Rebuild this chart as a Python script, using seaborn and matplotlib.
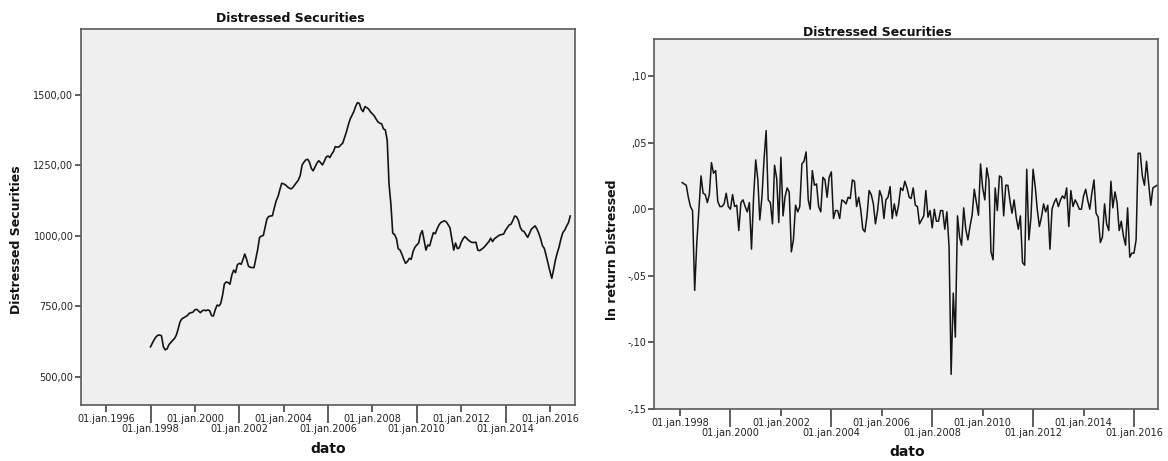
import numpy as np
import pandas as pd
import matplotlib
matplotlib.use("Agg")
import matplotlib.pyplot as plt
import seaborn as sns

# Monthly index level, Jan 1998 - Dec 2016
level_1998_2016 = [
    607, 620, 632, 642, 648, 649, 646, 607, 596, 600, 615, 622,
    630, 637, 648, 670, 695, 706, 710, 714, 718, 726, 728, 730,
    738, 740, 734, 728, 735, 737, 735, 738, 735, 718, 716, 738,
    755, 752, 760, 790, 830, 837, 835, 829, 862, 879, 870, 898,
    903, 900, 915, 936, 918, 893, 889, 888, 888, 920, 953, 995,
    1000, 1002, 1030, 1060, 1069, 1071, 1072, 1100, 1125, 1140, 1165, 1187,
    1185, 1181, 1175, 1170, 1167, 1172, 1181, 1190, 1199, 1215, 1252, 1262,
    1270, 1272, 1262, 1240, 1231, 1245, 1258, 1267, 1260, 1252, 1265, 1280,
    1284, 1278, 1290, 1300, 1317, 1315, 1316, 1323, 1330, 1350, 1370, 1394,
    1415, 1429, 1441, 1460, 1473, 1470, 1450, 1441, 1459, 1455, 1450, 1440,
    1433, 1426, 1415, 1405, 1400, 1398, 1380, 1376, 1340, 1184, 1112, 1010,
    1005, 990, 955, 950, 935, 917, 903, 910, 921, 917, 945, 960,
    968, 975, 1005, 1019, 985, 950, 968, 965, 990, 1012, 1008, 1025,
    1039, 1048, 1051, 1054, 1050, 1040, 1029, 990, 950, 975, 955, 958,
    977, 990, 998, 992, 985, 980, 977, 977, 978, 950, 948, 953,
    958, 965, 972, 980, 992, 980, 990, 995, 1000, 1004, 1005, 1007,
    1021, 1030, 1039, 1042, 1055, 1071, 1068, 1055, 1030, 1019, 1016, 1005,
    995, 1010, 1024, 1030, 1036, 1025, 1010, 990, 965, 956, 930, 903,
    875, 850, 880, 915, 940, 962, 990, 1012, 1021, 1035, 1047, 1071,
]

# Monthly log returns, Feb 1998 - Dec 2016
log_return = [
    .020, .019, .018, .009, .002, -.001, -.061, -.025, .000, .025, .012,
    .011, .005, .011, .035, .027, .029, .006, .002, .002, .004, .012, .002,
    .000, .011, .002, .003, -.016, .005, .007, .002, -.002, .005, -.030, .009,
    .037, .022, -.008, .009, .037, .059, .007, .005, -.011, .033, .023, -.010,
    .039, -.005, .009, .016, .013, -.032, -.023, .003, -.002, .002, .034, .036,
    .043, .007, .000, .029, .018, .019, .002, -.002, .024, .022, .009, .024,
    .028, -.007, -.001, -.001, -.007, .007, .006, .004, .009, .008, .022, .021,
    .002, .009, .000, -.015, -.017, -.005, .014, .011, .004, -.011, -.001, .014,
    .009, -.007, .007, .009, .017, -.007, .004, -.005, .003, .016, .014, .021,
    .016, .009, .008, .016, .003, .002, -.011, -.008, -.005, .014, -.006, -.001,
    -.014, .000, -.009, -.009, -.001, -.001, -.015, -.002, -.028, -.124, -.063, -.096,
    -.005, -.021, -.027, .001, -.015, -.023, -.013, -.0045, .015, .0055, -.0045, .034,
    .016, .007, .031, .022, -.032, -.038, .016, -.001, .025, .024, -.005, .018,
    .018, .006, -.003, .007, -.006, -.015, -.005, -.040, -.042, .030, -.023, -.006,
    .030, .017, .000, -.013, -.006, .004, -.002, .003, -.030, .000, .005, .008,
    .002, .007, .010, .008, .016, -.013, .014, .002, .007, .004, .000, .000,
    .010, .015, .007, .000, .012, .022, -.003, -.006, -.025, -.021, .004, -.011,
    -.016, .021, .001, .013, .005, -.016, -.009, -.020, -.027, .001, -.036, -.033,
    -.033, -.023, .042, .042, .025, .018, .036, .019, .003, .016, .017, .018,
]

level_dates = pd.date_range("1998-01-01", periods=len(level_1998_2016), freq="MS")
return_dates = pd.date_range("1998-02-01", periods=len(log_return), freq="MS")

left_upper_years = [1996, 2000, 2004, 2008, 2012, 2016]
left_lower_years = [1998, 2002, 2006, 2010, 2014]
right_upper_years = [1998, 2002, 2006, 2010, 2014]
right_lower_years = [2000, 2004, 2008, 2012, 2016]

left_yticks = [500, 750, 1000, 1250, 1500]
right_yticks = [-0.15, -0.10, -0.05, 0.00, 0.05, 0.10]

title = "Distressed Securities"
left_ylabel = "Distressed Securities"
right_ylabel = "ln return Distressed"
xlabel = "dato"

df_level = pd.DataFrame({"dato": level_dates, "value": level_1998_2016})
df_ret = pd.DataFrame({"dato": return_dates, "value": log_return})

plt.rcParams["font.family"] = ["DejaVu Sans"]

W, H = 1168, 461
fig = plt.figure(figsize=(W / 100, H / 100), dpi=100)
fig.patch.set_facecolor("white")


def px_axes(l, t, r, b):
    return fig.add_axes([l / W, 1 - b / H, (r - l) / W, (b - t) / H])


ax1 = px_axes(81, 29, 575, 405)
ax2 = px_axes(654, 39, 1158, 409)

sns.lineplot(data=df_level, x="dato", y="value", ax=ax1, color="#151515", lw=1.2)
sns.lineplot(data=df_ret, x="dato", y="value", ax=ax2, color="#151515", lw=1.1)


def jan(y):
    return pd.Timestamp(year=y, month=1, day=1)


def comma_label(v, decimals=2, strip_zero=False):
    s = f"{v:.{decimals}f}"
    if strip_zero:
        s = s.replace("0.", ".")
    return s.replace(".", ",")


def style_axes(ax, upper, lower, yticks, ylim, xlim, strip_zero):
    ax.set_facecolor("#efefef")
    for sp in ax.spines.values():
        sp.set_color("#5a5a5a")
        sp.set_linewidth(1.2)
    ax.set_xlim(xlim)
    ax.set_ylim(ylim)
    ax.set_xticks([jan(y) for y in upper])
    ax.set_xticklabels([f"01.jan.{y}" for y in upper])
    ax.set_xticks([jan(y) for y in lower], minor=True)
    ax.set_xticklabels([f"01.jan.{y}" for y in lower], minor=True)
    ax.tick_params(axis="x", which="major", length=5, width=1.1, pad=1.5,
                   labelsize=7, color="#333333", labelcolor="#222222")
    ax.tick_params(axis="x", which="minor", length=13, width=1.1, pad=0.8,
                   labelsize=7, color="#333333", labelcolor="#222222")
    ax.set_yticks(yticks)
    ax.set_yticklabels([comma_label(v, 2, strip_zero) for v in yticks])
    ax.tick_params(axis="y", which="major", length=4.5, width=1.1, pad=1,
                   labelsize=7, color="#333333", labelcolor="#222222")
    ax.grid(False)


style_axes(ax1, left_upper_years, left_lower_years, left_yticks,
           (400.7, 1734), (pd.Timestamp("1994-11-14"), pd.Timestamp("2017-02-17")), False)
style_axes(ax2, right_upper_years, right_lower_years, right_yticks,
           (-0.15, 0.1278), (pd.Timestamp("1996-12-20"), pd.Timestamp("2016-12-14")), True)

ax1.set_xlabel(xlabel, fontsize=10, fontweight="bold", color="#111111")
ax1.xaxis.set_label_coords(0.5, -0.117)
ax1.xaxis.label.set_va("center")
ax1.set_ylabel(left_ylabel, fontsize=9, fontweight="bold", color="#111111", va="center")
ax1.yaxis.set_label_coords(-0.13, 0.44)

ax2.set_xlabel(xlabel, fontsize=10, fontweight="bold", color="#111111")
ax2.xaxis.set_label_coords(0.502, -0.116)
ax2.xaxis.label.set_va("center")
ax2.set_ylabel(right_ylabel, fontsize=9, fontweight="bold", color="#111111", va="center")
ax2.yaxis.set_label_coords(-0.083, 0.43)

fig.text(290 / W, 1 - 19 / H, title, ha="center", va="center",
         fontsize=9, fontweight="bold", color="#111111")
fig.text(877 / W, 1 - 32 / H, title, ha="center", va="center",
         fontsize=9, fontweight="bold", color="#111111")

fig.savefig("out.png", dpi=100)
